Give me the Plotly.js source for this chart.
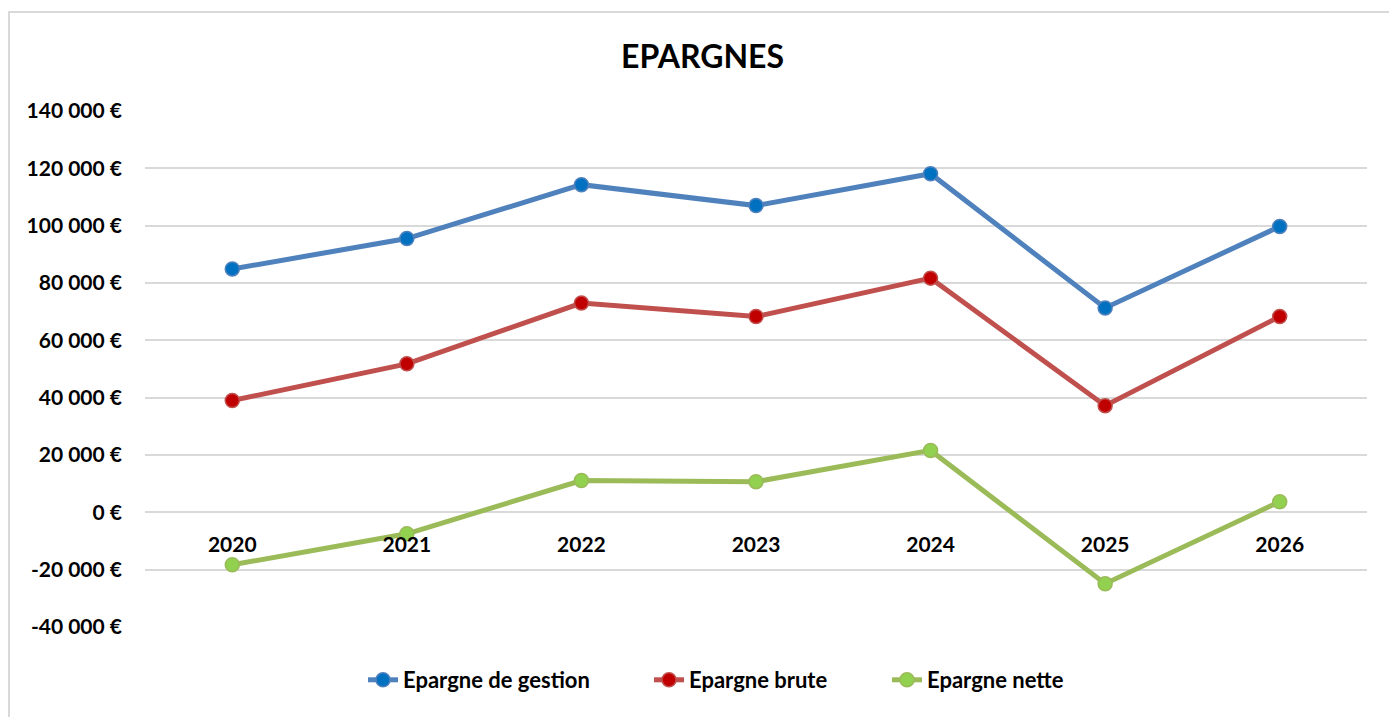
<!DOCTYPE html>
<html>
<head>
<meta charset="utf-8">
<script src="https://cdn.plot.ly/plotly-3.0.1.min.js"></script>
<style>
  body { margin: 0; background: #fff; overflow: hidden; }
  #frame { position: absolute; left: 8px; top: 11px; width: 1500px; height: 800px;
           border: 2px solid #d9d9d9; pointer-events: none; }
  #chart { position: absolute; left: 0; top: 0; width: 1389px; height: 717px; }
</style>
</head>
<body>
<div id="frame"></div>
<div id="chart"></div>
<script>
var years = ["2020", "2021", "2022", "2023", "2024", "2025", "2026"];
var epargneGestion = [84900, 95500, 114300, 107000, 118100, 71300, 99700];
var epargneBrute = [39000, 51800, 73000, 68300, 81700, 37200, 68300];
var epargneNette = [-18300, -7500, 11100, 10700, 21600, -24900, 3700];
var yTicks = [-40000, -20000, 0, 20000, 40000, 60000, 80000, 100000, 120000, 140000];
var yTickText = ["-40 000 €", "-20 000 €", "0 €", "20 000 €", "40 000 €", "60 000 €",
                 "80 000 €", "100 000 €", "120 000 €", "140 000 €"];

var font = "Lato, 'Liberation Sans', Arial, sans-serif";

function serie(name, y, lineColor, markerColor, legendId) {
  return {
    x: years,
    y: y,
    name: name,
    legend: legendId,
    type: 'scatter',
    mode: 'lines+markers',
    line: { color: lineColor, width: 5 },
    marker: { color: markerColor, size: 14, line: { color: lineColor, width: 1.5 } }
  };
}

var data = [
  serie("Epargne de gestion", epargneGestion, "#4f81bd", "#0070c0", "legend"),
  serie("Epargne brute", epargneBrute, "#c0504d", "#c00000", "legend2"),
  serie("Epargne nette", epargneNette, "#9bbb59", "#92d050", "legend3")
];

// one legend per series so each entry sits where Excel put it
function legendAt(px) {
  return {
    orientation: 'h',
    xref: 'container',
    x: px / 1389, xanchor: 'left',
    yref: 'container',
    y: 1 - 680 / 717, yanchor: 'middle',
    font: { family: font, size: 22, color: '#000', weight: 'bold' },
    bgcolor: 'rgba(0,0,0,0)'
  };
}

var layout = {
  width: 1389,
  height: 717,
  margin: { l: 145, r: 22, t: 111, b: 90 },
  paper_bgcolor: 'rgba(0,0,0,0)',
  plot_bgcolor: 'rgba(0,0,0,0)',
  font: { family: font, color: '#000', size: 21 },
  title: {
    text: '<b>EPARGNES</b>',
    font: { family: font, size: 32, color: '#000' },
    x: 0.5058, xanchor: 'center',
    y: 1 - 57 / 717, yanchor: 'middle'
  },
  xaxis: {
    type: 'category',
    range: [-0.5, 6.5],
    anchor: 'free',
    position: 40000 / 180000,
    showgrid: false,
    showline: false,
    zeroline: false,
    ticks: '',
    ticklabelstandoff: 18,
    tickfont: { family: font, size: 21, color: '#000', weight: 'bold' }
  },
  yaxis: {
    range: [-40000, 140000],
    tickvals: yTicks,
    ticktext: yTickText,
    showgrid: true,
    gridcolor: '#d9d9d9',
    gridwidth: 2,
    zeroline: false,
    showline: false,
    ticks: '',
    ticklabelstandoff: 22,
    tickfont: { family: font, size: 21, color: '#000', weight: 'bold' }
  },
  showlegend: true,
  legend: legendAt(363),
  legend2: legendAt(649),
  legend3: legendAt(887)
};

Plotly.newPlot('chart', data, layout, { displayModeBar: false, staticPlot: true });
</script>
</body>
</html>
